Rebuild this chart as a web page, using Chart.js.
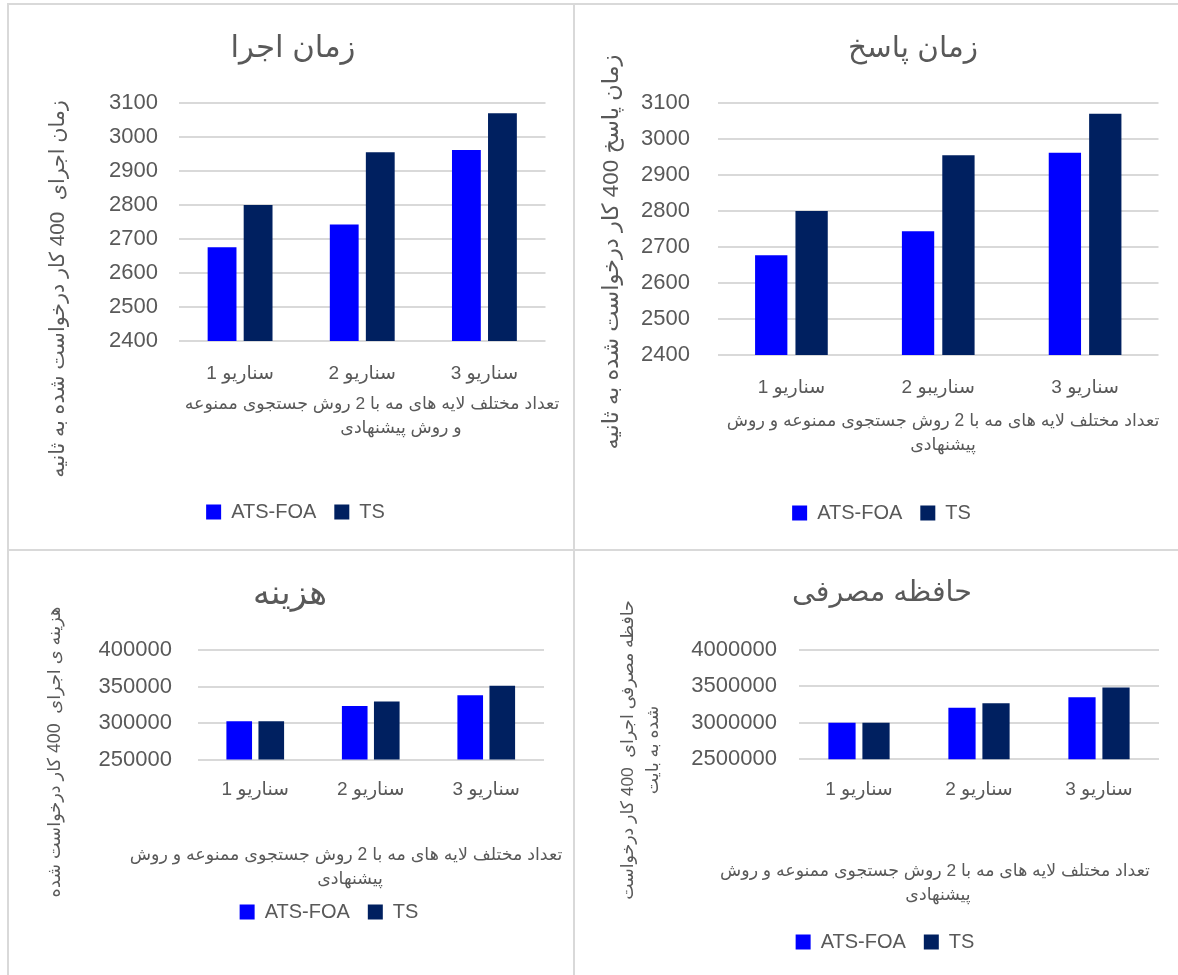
<!DOCTYPE html>
<html>
<head>
<meta charset="utf-8">
<script src="https://cdn.jsdelivr.net/npm/chart.js@4.4.0/dist/chart.umd.min.js"></script>
<style>
  html, body { margin: 0; padding: 0; background: #fff; }
  body { width: 1178px; height: 975px; position: relative; overflow: hidden; }
  canvas { position: absolute; }
  .line { position: absolute; background: #d9d9d9; }
</style>
</head>
<body>
<div class="line" style="left:7px;top:3px;width:2px;height:972px"></div>
<div class="line" style="left:7px;top:3px;width:1171px;height:2px"></div>
<div class="line" style="left:573px;top:3px;width:2px;height:972px"></div>
<div class="line" style="left:7px;top:549px;width:1171px;height:2px"></div>

<canvas id="execChart" dir="rtl" width="564" height="544" style="left:9px;top:5px"></canvas>
<canvas id="respChart" dir="rtl" width="603" height="544" style="left:575px;top:5px"></canvas>
<canvas id="costChart" dir="rtl" width="564" height="424" style="left:9px;top:551px"></canvas>
<canvas id="memChart" dir="rtl" width="603" height="424" style="left:575px;top:551px"></canvas>

<script>
// categories
const scenarios = ['سناریو 1', 'سناریو 2', 'سناریو 3'];
const scenariosResp = ['سناریو 1', 'سناریبو 2', 'سناریو 3'];

// series values
const execAts = [2676, 2743, 2962];
const execTs = [2800, 2955, 3070];
const respAts = [2677, 2744, 2962];
const respTs = [2800, 2955, 3070];
const costAts = [302300, 323400, 338000];
const costTs = [302300, 329400, 350900];
const memAts = [3000000, 3209000, 3350000];
const memTs = [3000000, 3268000, 3486000];

// tick ranges: min, max, step
const execTicks = [2400, 3100, 100];
const costTicks = [250000, 400000, 50000];
const memTicks = [2500000, 4000000, 500000];

const seriesNames = ['ATS-FOA', 'TS'];
const seriesColors = ['#0000FF', '#002060'];

const xTitleShort = ['تعداد مختلف لایه های مه با 2 روش جستجوی ممنوعه', 'و روش پیشنهادی'];
const xTitleLong = ['تعداد مختلف لایه های مه با 2 روش جستجوی ممنوعه و روش', 'پیشنهادی'];

const FONT = "'Liberation Sans', 'DejaVu Sans', sans-serif";
const TEXT = '#595959';

// font size that makes a text about `target` px wide
const measureCtx = document.createElement('canvas').getContext('2d');
function fitSize(text, target) {
  measureCtx.font = '100px ' + FONT;
  return 100 * target / measureCtx.measureText(text).width;
}

// axis titles drawn by hand (Arabic text, free placement), title/legend nudged sideways
const panelText = {
  id: 'panelText',
  afterLayout(chart, args, opts) {
    const mid = (chart.legend.left + chart.legend.right) / 2;
    chart.titleBlock.left += opts.titleX - mid;
    chart.titleBlock.right += opts.titleX - mid;
    chart.legend.left += opts.legendX - mid;
    chart.legend.right += opts.legendX - mid;
  },
  beforeDraw(chart) {
    chart.ctx.direction = 'rtl';
  },
  afterDraw(chart, args, opts) {
    const ctx = chart.ctx;
    ctx.save();
    ctx.direction = 'rtl';
    ctx.textAlign = 'center';
    ctx.textBaseline = 'middle';
    ctx.fillStyle = TEXT;

    ctx.font = opts.xSize + 'px ' + FONT;
    opts.xLines.forEach((l, i) => {
      ctx.fillText(l, opts.xx[i], opts.xy + i * opts.xLh);
    });

    ctx.translate(opts.yx, opts.yy);
    ctx.rotate(-Math.PI / 2);
    ctx.font = opts.ySize + 'px ' + FONT;
    opts.yLines.forEach((l, i) => {
      ctx.fillText(l, 0, (i - (opts.yLines.length - 1) / 2) * opts.yLh);
    });
    ctx.restore();
  }
};

function makeChart(id, p) {
  const canvas = document.getElementById(id);
  const W = canvas.width, H = canvas.height;
  const legendTop = p.legendY - 18 - 10;
  const padRight = W - p.plotRight;
  const padLeft = 10;
  const titleSize = fitSize(p.title, p.titleW);

  return new Chart(canvas, {
    type: 'bar',
    data: {
      labels: p.labels,
      datasets: [
        { label: seriesNames[0], data: p.ats, backgroundColor: seriesColors[0] },
        { label: seriesNames[1], data: p.ts, backgroundColor: seriesColors[1] }
      ]
    },
    options: {
      responsive: false,
      animation: false,
      categoryPercentage: p.cat,
      barPercentage: 0.8,
      layout: {
        padding: { top: p.titleY - titleSize * 0.6, left: padLeft, right: padRight, bottom: H - p.legendY - 20 }
      },
      plugins: {
        title: {
          display: true,
          text: p.title,
          color: TEXT,
          font: { family: FONT, size: titleSize, weight: 'normal' },
          padding: { top: 0, bottom: p.plotTop - p.titleY - titleSize * 0.6 }
        },
        legend: {
          position: 'bottom',
          labels: { color: TEXT, font: { family: FONT, size: 20 }, boxWidth: 15, boxHeight: 15, padding: 18 }
        },
        tooltip: { enabled: false },
        panelText: {
          titleX: p.titleX, legendX: p.legendX,
          xLines: p.xTitle, xx: p.xTitleX, xy: p.xTitleY, xLh: 24,
          xSize: fitSize(p.xTitle[0], p.xTitleW),
          yLines: p.yTitle, yx: p.yTitleX, yy: p.yTitleY, yLh: 25,
          ySize: fitSize(p.yTitle[0], p.yTitleW)
        }
      },
      scales: {
        x: {
          grid: { display: false, drawTicks: false },
          border: { display: false },
          ticks: { color: TEXT, font: { family: FONT, size: 19 }, padding: p.catY - p.plotBottom - 11.4 },
          afterFit: s => { s.height = legendTop - p.plotBottom; }
        },
        y: {
          min: p.ticks[0],
          max: p.ticks[1],
          ticks: {
            stepSize: p.ticks[2], color: TEXT, font: { family: FONT, size: 22 },
            padding: p.plotLeft - p.tickRight,
            callback: v => String(v)
          },
          grid: { color: '#d9d9d9', lineWidth: 2, drawTicks: false },
          border: { display: false },
          afterFit: s => { s.width = p.plotLeft - padLeft; }
        }
      }
    },
    plugins: [panelText]
  });
}

makeChart('execChart', {
  title: 'زمان اجرا', labels: scenarios, ats: execAts, ts: execTs, ticks: execTicks,
  xTitle: xTitleShort, yTitle: ['زمان اجرای  400 کار درخواست شده به ثانیه'],
  cat: 0.59, titleX: 284, titleY: 44, titleW: 125, legendX: 286.5, legendY: 507,
  plotTop: 98, plotBottom: 336, plotLeft: 170, plotRight: 536.5, tickRight: 149,
  catY: 369, xTitleX: [363, 392], xTitleY: 399, xTitleW: 375,
  yTitleX: 49, yTitleY: 284, yTitleW: 378
});

makeChart('respChart', {
  title: 'زمان پاسخ', labels: scenariosResp, ats: respAts, ts: respTs, ticks: execTicks,
  xTitle: xTitleLong, yTitle: ['زمان پاسخ 400 کار درخواست شده به ثانیه'],
  cat: 0.55, titleX: 338, titleY: 44, titleW: 130, legendX: 306.5, legendY: 508,
  plotTop: 98, plotBottom: 350, plotLeft: 143, plotRight: 583.5, tickRight: 115,
  catY: 383, xTitleX: [368, 368], xTitleY: 416, xTitleW: 433,
  yTitleX: 37, yTitleY: 247, yTitleW: 395
});

makeChart('costChart', {
  title: 'هزینه', labels: scenarios, ats: costAts, ts: costTs, ticks: costTicks,
  xTitle: xTitleLong, yTitle: ['هزینه ی اجرای  400 کار درخواست شده'],
  cat: 0.555, titleX: 281, titleY: 44, titleW: 74, legendX: 320, legendY: 361,
  plotTop: 99, plotBottom: 208.5, plotLeft: 188.5, plotRight: 535, tickRight: 163,
  catY: 239, xTitleX: [337, 341], xTitleY: 304, xTitleW: 433,
  yTitleX: 46, yTitleY: 201, yTitleW: 291
});

makeChart('memChart', {
  title: 'حافظه مصرفی', labels: scenarios, ats: memAts, ts: memTs, ticks: memTicks,
  xTitle: xTitleLong, yTitle: ['حافظه مصرفی اجرای  400 کار درخواست', 'شده به بایت'],
  cat: 0.567, titleX: 307, titleY: 42, titleW: 180, legendX: 310, legendY: 391,
  plotTop: 99, plotBottom: 208.3, plotLeft: 224, plotRight: 584, tickRight: 202,
  catY: 239, xTitleX: [360, 363], xTitleY: 320, xTitleW: 430,
  yTitleX: 65.5, yTitleY: 199, yTitleW: 300
});
</script>
</body>
</html>
